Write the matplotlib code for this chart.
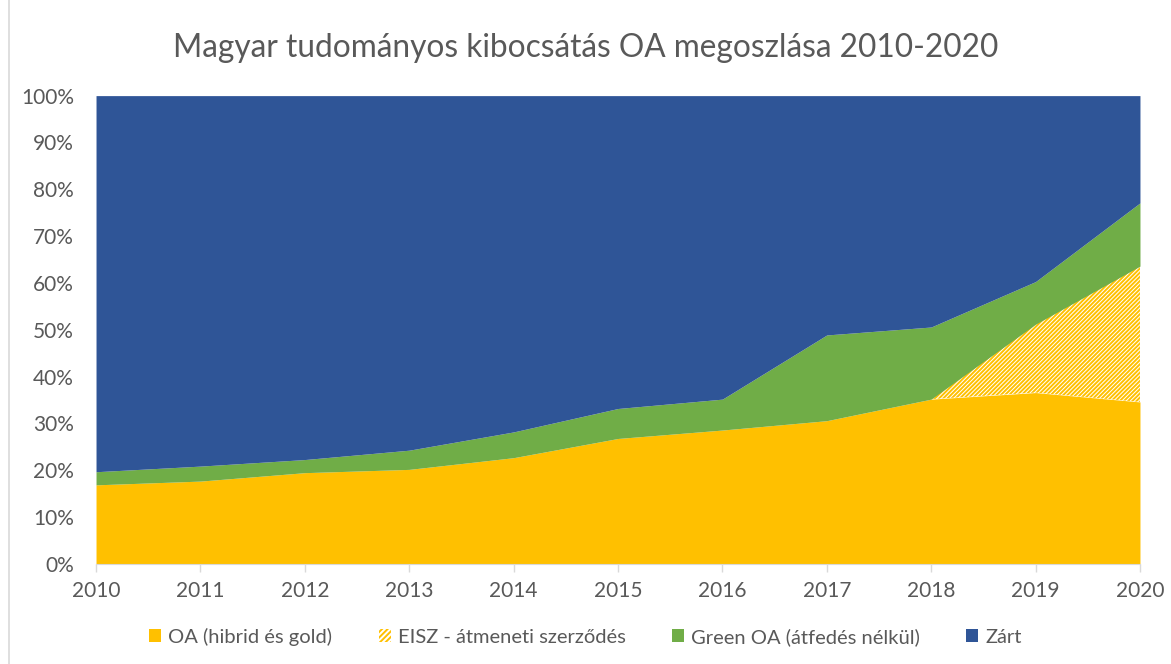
import numpy as np
import matplotlib.pyplot as plt
from matplotlib.patches import Patch
from matplotlib.lines import Line2D

# Data (percent of output)
years = [2010, 2011, 2012, 2013, 2014, 2015, 2016, 2017, 2018, 2019, 2020]
oa = [16.9, 17.7, 19.5, 20.2, 22.7, 26.8, 28.6, 30.6, 35.2, 36.6, 34.6]
eisz = [0, 0, 0, 0, 0, 0, 0, 0, 0, 14.6, 29.0]
green = [2.8, 3.2, 2.8, 4.1, 5.5, 6.4, 6.6, 18.3, 15.4, 9.1, 13.5]
labels = ['OA (hibrid és gold)', 'EISZ - átmeneti szerződés',
          'Green OA (átfedés nélkül)', 'Zárt']

plt.rcParams['font.family'] = ['Lato', 'DejaVu Sans']
plt.rcParams['hatch.linewidth'] = 1.4
grey = '#595959'
c_oa = '#FFC000'
c_green = '#70AD47'
c_zart = '#2F5597'

oa = np.array(oa)
eisz = np.array(eisz)
green = np.array(green)
zart = 100 - oa - eisz - green

fig = plt.figure(figsize=(11.71, 6.64), dpi=100)
ax = fig.add_axes([0.082, 0.1506, 0.8915, 0.7054])

b0 = np.zeros(len(years))
b1 = oa
b2 = b1 + eisz
b3 = b2 + green
b4 = b3 + zart
ax.fill_between(years, b0, b1, color=c_oa, lw=0)
ax.fill_between(years, b1, b2, facecolor='white', edgecolor=c_oa, hatch='////////', lw=0)
ax.fill_between(years, b2, b3, color=c_green, lw=0)
ax.fill_between(years, b3, b4, color=c_zart, lw=0)

ax.set_xlim(2010, 2020)
ax.set_ylim(0, 100)
ax.set_xticks(years)
ax.set_yticks(range(0, 101, 10))
ax.set_yticklabels([f'{v}%' for v in range(0, 101, 10)])
ax.tick_params(axis='y', length=0, labelsize=15, colors=grey, pad=16)
ax.tick_params(axis='x', length=6, width=1, color='#D9D9D9', labelsize=15,
               labelcolor=grey, pad=6)
for s in ['top', 'right', 'left']:
    ax.spines[s].set_visible(False)
ax.spines['bottom'].set_color('#D9D9D9')

fig.text(0.5, 0.928, 'Magyar tudományos kibocsátás OA megoszlása 2010-2020',
         ha='center', va='center', fontsize=22.8, color=grey)

handles = [Patch(facecolor=c_oa, edgecolor='none'),
           Patch(facecolor='white', edgecolor=c_oa, hatch='//////', lw=0),
           Patch(facecolor=c_green, edgecolor='none'),
           Patch(facecolor=c_zart, edgecolor='none')]
fig.legend(handles, labels, loc='center', bbox_to_anchor=(0.5, 0.041), ncol=4,
           frameon=False, fontsize=14.5, labelcolor=grey, handlelength=0.6,
           handleheight=0.6, handletextpad=0.35, columnspacing=2.3)

fig.add_artist(Line2D([9 / 1171, 9 / 1171], [0, 1], color='#D9D9D9', lw=1.2))

fig.savefig('out.png', dpi=100)
